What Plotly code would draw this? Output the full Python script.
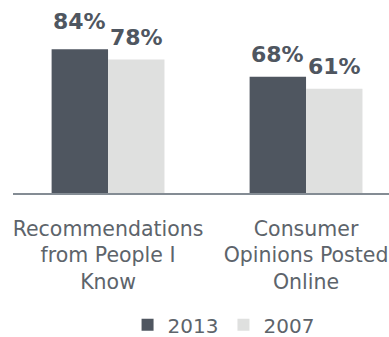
import plotly.graph_objects as go

categories = ["Recommendations<br>from People I<br>Know", "Consumer<br>Opinions Posted<br>Online"]
series_names = ["2013", "2007"]
values_2013 = [84, 68]
values_2007 = [78, 61]
colors = ["#4f5660", "#dfe0df"]

FONT = "DejaVu Sans"
bargap = 0.43

fig = go.Figure()
for name, vals, col in zip(series_names, [values_2013, values_2007], colors):
    fig.add_trace(go.Bar(x=categories, y=vals, name=name, marker_color=col,
                         marker_line_width=0, hoverinfo="skip"))

half = (1 - bargap) / 4
for s, vals in enumerate([values_2013, values_2007]):
    for i, v in enumerate(vals):
        extra = 5 if (s == 0 and i == 0) else 0
        fig.add_annotation(x=i + (-half if s == 0 else half), y=v, xref="x", yref="y",
                           text=f"{v}%", showarrow=False, yanchor="bottom",
                           yshift=8 + extra,
                           font=dict(family=FONT, size=22, color="#4f5660", weight="bold"))

fig.update_layout(
    width=389, height=337,
    margin=dict(l=13, r=0, t=22, b=144, autoexpand=False),
    paper_bgcolor="white", plot_bgcolor="white",
    barmode="group", bargap=bargap, bargroupgap=0,
    showlegend=True,
    legend=dict(orientation="h", x=0.56, xanchor="center",
                yref="container", y=0.036, yanchor="middle",
                font=dict(family=FONT, size=20, color="#5d646b"),
                itemwidth=30, traceorder="normal"),
    font=dict(family=FONT),
)
fig.update_xaxes(range=[-0.48, 1.419], showline=True, linecolor="#848c94", linewidth=2,
                 ticks="", ticklabelstandoff=16,
                 tickfont=dict(family=FONT, size=20.5, color="#5d646b"),
                 showgrid=False, fixedrange=True)
fig.update_yaxes(range=[0, 100], visible=False, showgrid=False, fixedrange=True)

fig.write_html("out.html")
